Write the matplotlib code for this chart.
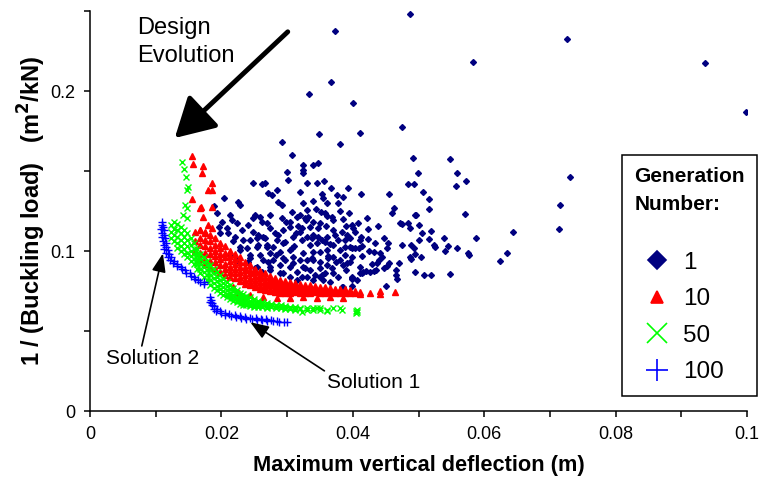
import numpy as np
import matplotlib
matplotlib.use('Agg')
import matplotlib.pyplot as plt
from matplotlib.lines import Line2D

plt.rcParams['font.family'] = ['Liberation Sans', 'DejaVu Sans']

# values: deflection in mm, 1/buckling load in 1e-3 m2/kN
gen1_x = [48.7, 37.3, 72.6, 58.3, 93.6, 99.8, 33.3, 36.7, 40.0, 34.9, 38.1, 41.1, 47.5, 49.2, 54.8,
          55.9, 57.2, 55.7, 49.9, 48.4, 49.3, 50.7, 51.6, 51.6, 49.6, 46.3, 46.0, 45.5, 41.2, 39.3,
          73.1, 71.5, 71.4, 64.4, 63.5, 62.4, 58.8, 57.1, 57.5, 57.7, 54.8, 55.9, 54.5, 54.0, 53.9,
          52.4, 52.5, 51.9, 50.5, 51.6, 50.1, 48.4, 48.7, 47.5, 47.5, 48.9, 49.3, 49.5, 48.9, 48.7,
          50.4, 49.5, 50.8, 51.9, 47.0, 46.6, 46.6, 46.7, 45.1, 45.5, 45.2, 44.1, 44.4, 44.0, 43.7,
          43.8, 42.3, 42.3, 42.5, 42.2, 41.2, 41.4, 41.4, 43.4, 43.2, 42.9, 43.2, 42.6, 42.0, 41.4,
          41.1, 44.7, 45.4, 45.2, 44.7, 43.5, 39.9, 39.9, 38.5,
          32.4, 33.9, 34.7, 32.4, 32.4, 33.0, 35.6, 36.7, 37.6, 38.5, 35.3, 35.5, 33.9, 32.4, 36.1,
          37.7, 35.2, 33.0, 34.4, 36.8, 38.1, 39.4, 32.0, 33.2, 35.8, 36.1, 37.0, 38.5, 39.9, 40.0,
          40.8, 35.0, 33.5, 32.3, 37.0, 38.4, 39.1, 39.6, 36.1, 34.7, 33.0, 32.3, 33.5, 34.6, 35.8,
          37.0, 38.1, 38.8, 39.6, 40.3, 40.9, 33.9, 35.0, 36.1, 37.0, 38.1, 39.1, 39.9, 32.4, 33.0,
          33.9, 35.0, 36.1, 36.8, 38.5, 39.6, 32.4, 33.5, 34.2, 35.0, 35.8, 37.0, 37.7, 39.9, 40.6,
          32.3, 33.9, 35.5, 41.1, 41.6, 47.2, 49.5, 50.1,
          29.2, 30.7, 30.0, 30.1, 28.5, 27.1, 24.8, 26.6, 22.5, 22.8, 20.4, 18.9, 19.3, 28.6, 29.2,
          30.7, 31.5, 32.9, 25.9, 24.8, 27.4, 26.9, 21.3, 21.6, 22.4, 19.6, 20.9, 24.0, 23.1, 24.8,
          22.1, 23.3, 24.4, 25.4, 26.3, 28.2, 29.4, 30.4, 28.5, 29.4, 30.9, 25.4, 26.9, 23.9, 22.8,
          24.4, 25.9, 27.4, 28.9, 30.4, 26.3, 27.9, 29.4, 30.9, 28.9, 30.4, 29.4, 31.5, 32.7, 27.4,
          31.5, 22.8, 21.3, 22.4, 24.4, 25.4, 27.4, 28.9, 30.4, 33.0, 35.3, 36.5, 38.4, 39.9, 19.8,
          21.0, 26.2, 27.7, 32.0, 34.6, 20.1, 21.8, 31.0, 34.0, 36.3, 38.9, 25.6, 27.0, 29.9, 31.3,
          25.1, 26.2, 27.4, 28.6, 29.7, 30.7, 26.6, 25.6, 32.0, 33.8, 34.7, 35.9, 37.3, 38.8, 39.9,
          33.8, 35.0, 36.2, 37.4, 38.8, 32.0, 30.9, 29.7, 28.3, 27.1, 26.2, 25.1, 24.0, 27.9, 29.2,
          30.4, 31.7, 32.7, 33.9, 35.3, 36.5, 37.7, 39.0, 40.3, 41.1]
gen1_y = [248, 237.5, 232.5, 218, 217.5, 187, 198, 205.6, 192.5, 173, 167, 174, 177.5, 158, 157.5,
          149, 144, 140.5, 149, 142, 142, 137, 132.5, 126, 122.5, 127, 124, 135.5, 135.5, 139.5,
          146, 129, 114, 112, 99, 94, 108, 123, 99, 97.5, 85.6, 102, 103, 100, 108,
          104, 102.5, 112.5, 111, 107.5, 107, 117.5, 114.5, 117, 104, 104, 102, 98, 95, 96,
          96, 87, 85, 85, 92.5, 88, 85, 82.5, 78, 92.5, 90.6, 99, 96, 94.5, 92.5,
          115.6, 114, 107.5, 100, 120.6, 109, 103, 97, 105, 99.5, 92, 87.5, 87, 87.5, 86,
          86, 108, 105, 102, 89.5, 88, 82.5, 78, 77.5,
          153.8, 153.8, 155, 150.6, 148.8, 142.5, 143.8, 139.4, 135, 133.8, 135.6, 133, 131, 130, 130,
          130, 124.4, 125.6, 126.3, 121, 125, 123.8, 122.5, 121.3, 123.8, 121.9, 119.4, 120, 116.3, 114.4,
          117.5, 117.5, 115, 114.4, 113, 112, 110, 108, 108.8, 108.8, 108.8, 106.9, 103.8, 105, 105.6,
          103.8, 100.6, 102.5, 102.5, 101.9, 101.9, 99.4, 99.4, 100.6, 96.3, 94.4, 92.5, 96.3, 98.8, 94.4,
          94.4, 93.1, 91.3, 89.4, 91.3, 93.1, 90, 88.1, 85, 83.8, 86.3, 86.3, 83.8, 83.8, 81.9,
          83.8, 81.9, 81.9, 90, 86.9, 117.5, 122.5, 116.3,
          168, 160, 149.4, 144.4, 138, 136, 142.5, 142.5, 130.6, 128.8, 133, 128, 123.8, 130.6, 128.8,
          124.4, 121.3, 119.4, 121.3, 120.6, 122.5, 117.5, 122.5, 119.4, 117.5, 115, 114.4, 116.3, 113, 112,
          108.8, 106.9, 106.9, 108, 108.8, 111.3, 113, 115, 106.9, 105, 108.8, 102.5, 102.5, 101.9, 100.6,
          97.5, 97.5, 98.8, 99.4, 100.6, 94.4, 94.4, 95.6, 96.3, 91.3, 90, 86.3, 87, 89.4, 90,
          81.9, 102.5, 97.5, 94.4, 95.6, 90, 88.1, 86.3, 83.8, 83.8, 85, 80.6, 77.5, 83.1, 111.3,
          111.3, 141.9, 135, 136.9, 142.5, 118, 106, 103, 110, 97, 88, 110, 104, 118, 111,
          122.5, 118.1, 114.4, 110, 105.6, 101.9, 108.1, 103.8, 111.9, 108.1, 114.4, 115.6, 110, 106.9, 101.9,
          95.6, 89.4, 95.6, 93.1, 97.5, 94.4, 92.5, 94.4, 97.5, 93.1, 86.9, 89.4, 93.1, 102.5, 120.6,
          118.1, 115.6, 120.6, 118.1, 106.9, 104.4, 106.9, 115.6, 111.9, 106.9]

gen10_x = [15.5, 15.7, 17.2, 17.0, 18.6, 18.0, 18.6, 15.5, 16.9, 18.6, 17.2, 16.7, 18.0, 16.7, 17.5, 18.6,
           16.0, 16.0, 16.0,
           16.7, 16.7, 16.7, 16.7, 16.7,
           17.5, 17.5, 17.5, 17.5, 17.5, 17.5,
           18.3, 18.3, 18.3, 18.3, 18.3, 18.3,
           19.0, 19.0, 19.0, 19.0, 19.0, 19.0,
           19.8, 19.8, 19.8, 19.8, 19.8, 19.8,
           20.5, 20.5, 20.5, 20.5, 20.5, 20.5,
           21.3, 21.3, 21.3, 21.3, 21.3, 21.3,
           22.1, 22.1, 22.1, 22.1, 22.1, 22.1,
           22.8, 22.8, 22.8, 22.8, 22.8, 22.8,
           23.6, 23.6, 23.6, 23.6, 23.6, 23.6,
           24.4, 24.4, 24.4, 24.4, 24.4, 24.4,
           25.1, 25.1, 25.1, 25.1, 25.1, 25.1,
           25.9, 25.9, 25.9, 25.9, 25.9, 25.9,
           26.6, 26.6, 26.6, 26.6, 26.6, 26.6,
           27.4, 27.4, 27.4, 27.4, 27.4, 27.4,
           28.2, 28.2, 28.2, 28.2, 28.2, 28.2,
           28.9, 28.9, 28.9, 28.9, 28.9, 28.9,
           29.7, 29.7, 29.7, 29.7, 29.7, 29.7,
           30.4, 30.4, 30.4, 30.4, 30.4, 30.4,
           31.2, 31.2, 31.2, 31.2, 31.2,
           32.0, 32.0, 32.0, 32.0, 32.0,
           32.7, 32.7, 32.7, 32.7, 32.7,
           33.5, 33.5, 33.5, 33.5, 33.5,
           34.2, 34.2, 34.2, 34.2,
           35.0, 35.0, 35.0, 35.0,
           35.8, 35.8, 35.8, 35.8,
           36.5, 36.5, 36.5,
           37.3, 37.3, 37.3, 37.3,
           38.1, 38.1, 38.1,
           38.8, 38.8, 38.8,
           39.6, 39.6, 40.3, 40.3, 41.1, 41.1, 42.6, 44.1, 44.1, 46.4,
           23.1, 24.4, 26.3, 28.5, 30.4, 32.4, 34.6, 36.5, 38.5, 21.8, 22.5]
gen10_y = [159.4, 154.4, 153.1, 148.8, 142.5, 138.1, 138.1, 132.5, 127.5, 127.5, 121.3, 126.9, 116.3, 113, 111.9, 114.4,
           112, 106, 100,
           113, 108, 104, 99, 95,
           111, 107, 103, 99, 95, 92,
           110, 106, 102, 98, 94, 90,
           108, 104, 100, 97, 93, 89,
           105, 102, 98, 95, 91, 87,
           103, 99, 96, 92, 89, 85,
           100, 97, 94, 90, 87, 84,
           98, 95, 92, 89, 86, 83,
           96, 93, 90, 87, 84, 81,
           93, 90, 88, 85, 82, 79.5,
           91, 88, 86, 83, 80.5, 78.5,
           89, 87, 84.5, 82, 79.5, 77.5,
           87.5, 85, 83, 80.5, 78, 76.5,
           86, 84, 81.5, 79.5, 77.5, 75.5,
           84.5, 82.5, 80.5, 78.5, 76.5, 75,
           83, 81, 79.5, 77.5, 76, 74.5,
           82, 80, 78.5, 77, 75.5, 74,
           81, 79.5, 78, 76.5, 75, 73.8,
           80.5, 79, 77.5, 76, 74.5, 73.5,
           80, 78.5, 77, 75.5, 74.2,
           79.5, 78, 76.5, 75, 74,
           79, 77.5, 76, 74.8, 73.6,
           78.5, 77, 75.8, 74.5, 73.5,
           78, 76.8, 75.5, 74.3,
           77.5, 76.5, 75.2, 74,
           77.2, 76, 75, 73.8,
           77, 75.8, 74.6,
           76.5, 75.5, 74.4, 73.5,
           76.3, 75, 74,
           76, 74.5, 73.5,
           75.5, 74, 75, 73.5, 74.5, 73, 73.8, 75, 73, 74.5,
           70.6, 72.5, 71.3, 70.6, 70.6, 71.3, 70.6, 71.3, 70.6, 77.5, 74.4]

gen50_x = [14.0, 14.3, 14.6, 14.9, 14.8, 14.5, 14.8, 14.2, 14.8,
           12.3, 12.3, 12.3,
           12.8, 12.8, 12.8, 12.8,
           13.3, 13.3, 13.3, 13.3, 13.3,
           13.8, 13.8, 13.8, 13.8, 13.8,
           14.3, 14.3, 14.3, 14.3, 14.3,
           14.8, 14.8, 14.8, 14.8, 14.8,
           15.3, 15.3, 15.3, 15.3, 15.3,
           15.8, 15.8, 15.8, 15.8, 15.8,
           16.3, 16.3, 16.3, 16.3, 16.3,
           16.8, 16.8, 16.8, 16.8, 16.8,
           17.3, 17.3, 17.3, 17.3, 17.3,
           17.8, 17.8, 17.8, 17.8, 17.8,
           18.3, 18.3, 18.3, 18.3, 18.3,
           18.8, 18.8, 18.8, 18.8, 18.8,
           19.3, 19.3, 19.3, 19.3, 19.3,
           19.8, 19.8, 19.8, 19.8, 19.8,
           20.3, 20.3, 20.3, 20.3, 20.3,
           20.8, 20.8, 20.8, 20.8, 20.8,
           21.3, 21.3, 21.3, 21.3, 21.3,
           21.8, 21.8, 21.8, 21.8, 21.8,
           22.3, 22.3, 22.3, 22.3, 22.3,
           22.8, 22.8, 22.8, 22.8, 22.8,
           23.3, 23.3, 23.3, 23.3, 23.3,
           23.8, 23.8, 23.8, 23.8, 23.8,
           24.4, 24.4, 24.4, 24.4, 24.4,
           25.0, 25.0, 25.0, 25.0, 25.0,
           25.6, 25.6, 25.6, 25.6,
           26.2, 26.2, 26.2, 26.2,
           26.9, 26.9, 26.9, 26.9,
           27.6, 27.6, 27.6,
           28.3, 28.3, 28.3,
           29.0, 29.0, 29.0,
           29.7, 29.7, 29.7,
           30.4, 30.4, 30.4,
           31.2, 31.2, 31.2,
           32.0, 32.0, 33.0, 33.0, 34.0, 34.0, 35.0, 35.0, 36.0, 37.0, 38.3, 40.6, 40.6,
           32.3, 34.5, 36.1, 38.1, 40.5, 40.5]
gen50_y = [155.6, 151.3, 146.3, 140, 138.1, 128.8, 126.9, 122.5, 120.6,
           116, 112, 108,
           118, 114, 110, 106,
           117, 113, 109, 105, 102,
           115, 111, 107, 103, 100,
           113, 109, 105, 101, 98,
           111, 107, 103, 99, 96,
           108, 104, 100, 97, 94,
           105, 101, 98, 95, 92,
           101, 98, 95, 92, 89,
           98, 95, 92, 89, 86,
           96, 93, 90, 87, 84,
           94, 91, 88, 85, 82,
           91, 88, 85, 82, 79,
           89, 86, 83, 80, 77,
           87, 84, 81, 78, 75.5,
           85, 82, 79, 76.5, 74,
           82.5, 80, 77.5, 75, 72.5,
           80.5, 78, 75.5, 73, 71,
           79, 76.5, 74, 72, 70,
           77, 75, 72.5, 70.5, 69,
           75.5, 73.5, 71.5, 69.5, 68,
           74, 72, 70, 68.5, 67,
           73, 71, 69, 67.5, 66.5,
           72, 70, 68.5, 67, 66,
           71, 69, 67.5, 66.2, 65.5,
           70, 68.5, 67, 65.8, 65,
           69, 67.5, 66.3, 65.3,
           68.3, 67, 65.8, 64.8,
           67.5, 66.3, 65.2, 64.5,
           67, 65.8, 64.8,
           66.5, 65.5, 64.5,
           66, 65, 64.2,
           65.6, 64.6, 63.9,
           65.3, 64.3, 63.6,
           65, 64, 63.4,
           64.6, 63.5, 64.5, 63.2, 64.4, 63, 64.4, 63.2, 63, 64.4, 63.2, 63.4, 62,
           61.9, 64.4, 62.5, 64.4, 62.5, 61.3]

gen100_x = [11.0, 10.9, 11.1, 10.8, 11.2, 10.9, 11.2, 11.0, 11.4, 11.1, 11.5, 11.2, 11.6, 11.3, 11.8,
            11.5, 12.0, 11.8, 12.3, 12.2, 12.8, 12.7, 13.3, 13.3, 13.9, 14.0, 14.5, 14.6, 15.2, 15.3,
            15.8, 16.0, 16.5, 16.7, 17.3, 17.4,
            18.2, 18.4, 18.2, 18.6, 18.5, 18.9, 18.8, 19.3, 19.2, 19.8, 19.9, 20.5, 20.6, 21.2, 21.4,
            22.0, 22.2, 22.8, 23.0, 23.6, 23.8, 24.4, 24.6, 25.2, 25.4, 26.0, 26.2, 26.8, 27.0, 27.6,
            27.9, 28.5, 28.8, 29.5, 30.0]
gen100_y = [118, 116.5, 115, 114, 113, 111.5, 110, 108.5, 108, 106.5, 105, 104, 102.5, 101, 100.5,
            99, 98, 96.5, 96, 94.5, 94, 92.5, 92, 90.5, 90, 88.5, 88, 86.5, 86, 84.5,
            84, 82.5, 82, 80.5, 80.5, 79.5,
            71, 69.5, 68, 67.5, 66, 65.5, 64, 64, 62.5, 62.8, 61.3, 61.5, 60.2, 60.5, 59.3,
            59.8, 58.6, 59.2, 58, 58.8, 57.6, 58.4, 57.2, 58, 56.9, 57.6, 56.6, 57.2, 56.3, 56.9,
            56.0, 56.5, 55.7, 55.8, 55.6]

generations = ['1', '10', '50', '100']
colors = ['#000080', '#ff0000', '#00ff00', '#0000ff']
markers = ['D', '^', 'x', '+']
sizes = [3.0, 4.0, 5.0, 6.0]
series = [(gen1_x, gen1_y), (gen10_x, gen10_y), (gen50_x, gen50_y), (gen100_x, gen100_y)]

fig = plt.figure(figsize=(7.64, 4.84), dpi=100)
ax = fig.add_axes([90/764, 1-411/484, 657/764, 400/484])

for (xs, ys), c, m, s in zip(series, colors, markers, sizes):
    ax.plot(np.array(xs)/1000, np.array(ys)/1000, ls='none', marker=m, ms=s, color=c, mec=c, mew=1.0)

ax.set_xlim(0, 0.1)
ax.set_ylim(0, 0.25)
ax.set_xticks([0, 0.02, 0.04, 0.06, 0.08, 0.1])
ax.set_xticklabels(['0', '0.02', '0.04', '0.06', '0.08', '0.1'])
ax.set_xticks(np.arange(0.01, 0.1, 0.02), minor=True)
ax.set_yticks([0, 0.1, 0.2])
ax.set_yticklabels(['0', '0.1', '0.2'])
ax.set_yticks([0.05, 0.15, 0.25], minor=True)
for side in ['top', 'right']:
    ax.spines[side].set_visible(False)
for side in ['left', 'bottom']:
    ax.spines[side].set_linewidth(1.1)
ax.tick_params(which='both', direction='out', length=4.5, width=1.1, labelsize=13, pad=6)
ax.set_xlabel('Maximum vertical deflection (m)', fontsize=15.7, fontweight='bold', labelpad=9)
ax.set_ylabel('1 / (Buckling load)   (m$^\\mathbf{2}$/kN)', fontsize=17, fontweight='bold', labelpad=2)

# annotations
ax.text(0.0072, 0.2306, 'Design\nEvolution', fontsize=17, ha='left', va='center', linespacing=1.3)
ax.annotate('', xy=(0.0129, 0.1706), xytext=(0.0301, 0.237),
            arrowprops=dict(arrowstyle='-|>,head_length=0.8,head_width=0.45', lw=3.5, color='black',
                            mutation_scale=30, shrinkA=0, shrinkB=0))
ax.annotate('Solution 2', xy=(0.0111, 0.0985), xytext=(0.0024, 0.033), fontsize=15,
            ha='left', va='center',
            arrowprops=dict(arrowstyle='-|>,head_length=0.8,head_width=0.3', lw=1.2, color='black',
                            mutation_scale=14, shrinkA=0, shrinkB=0, relpos=(0.38, 1.0)))
ax.annotate('Solution 1', xy=(0.0244, 0.0555), xytext=(0.0361, 0.018), fontsize=15,
            ha='left', va='center',
            arrowprops=dict(arrowstyle='-|>,head_length=0.8,head_width=0.3', lw=1.2, color='black',
                            mutation_scale=14, shrinkA=0, shrinkB=0, relpos=(0.0, 1.0)))

handles = [Line2D([], [], ls='none', marker=m, color=c, mec=c, ms=ms, mew=1.2)
           for m, c, ms in zip(markers, colors, [9, 8, 14, 16])]
leg = ax.legend(handles, generations, title='Generation\nNumber:', loc='upper left',
                bbox_to_anchor=(622/764, 1-155/484), bbox_transform=fig.transFigure,
                borderaxespad=0, fancybox=False, edgecolor='black', framealpha=1,
                prop={'size': 17.5}, title_fontproperties={'size': 15, 'weight': 'bold'},
                alignment='left', handlelength=1.9, handletextpad=0.1, labelspacing=0.6,
                borderpad=0.5)
leg.get_frame().set_linewidth(1.1)
leg.get_title().set_linespacing(1.6)
leg._legend_box.sep = 27

fig.savefig('out.png', dpi=100)
